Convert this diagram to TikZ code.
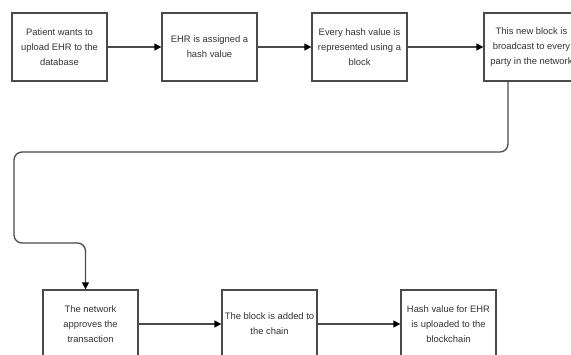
\documentclass[tikz,border=0pt]{standalone}
\usepackage{fontspec}
\setmainfont{Liberation Sans}
\usetikzlibrary{arrows.meta,calc}
\definecolor{boxline}{HTML}{4A4A4A}
\definecolor{txt}{HTML}{333333}
\tikzset{
  stepbox/.style={draw=boxline, line width=1.3pt, minimum width=95pt, minimum height=68pt,
    inner sep=0pt, align=center, text=txt, font=\fontsize{9.4pt}{15pt}\selectfont},
  conn/.style={draw=boxline, line width=1.3pt, -{Triangle[length=7pt,width=7pt,color=black]}},
}
\begin{document}
\begin{tikzpicture}[x=1pt,y=-1pt]
\useasboundingbox (0,0) rectangle (571,355);
\clip (0,0) rectangle (571,355);
\fill[white] (0,0) rectangle (571,355);
\node[stepbox] (b1) at (59.5,47) {Patient wants to\\upload EHR to the\\database};
\node[stepbox] (b2) at (209.5,47) {EHR is assigned a\\hash value};
\node[stepbox] (b3) at (359.5,47) {Every hash value is\\represented using a\\block};
\node[stepbox] (b4) at (531.5,47) {This new block is\\broadcast to every\\party in the network};
\node[stepbox] (b5) at (90.5,324) {The network\\approves the\\transaction};
\node[stepbox] (b6) at (269.5,324) {The block is added to\\the chain};
\node[stepbox] (b7) at (448.5,324) {Hash value for EHR\\is uploaded to the\\blockchain};
\draw[conn] (b1) -- (b2);
\draw[conn] (b2) -- (b3);
\draw[conn] (b3) -- (b4);
\draw[conn] (b5) -- (b6);
\draw[conn] (b6) -- (b7);
\coordinate (s) at ($(b4.south)+(-23.5,0)$);
\coordinate (e) at ($(b5.north)+(-5,0)$);
\draw[conn, rounded corners=8pt] (s) -- (s |- 0,152) -- (14,152) -- (14,243) -- (e |- 0,243) -- (e);
\end{tikzpicture}
\end{document}
